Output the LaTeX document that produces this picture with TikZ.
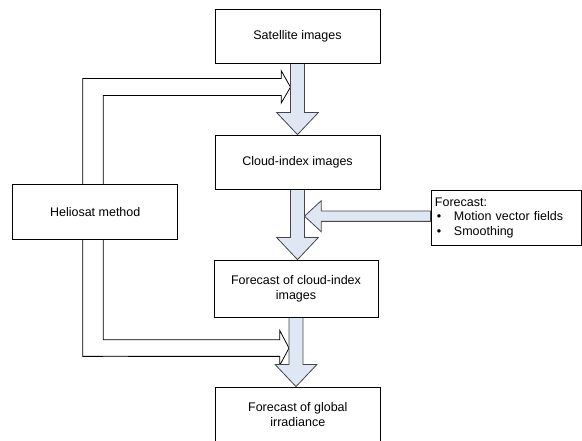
\documentclass[tikz,border=0pt]{standalone}
\usepackage{fontspec}
\setmainfont{Liberation Sans}
\usetikzlibrary{calc}

\definecolor{arrowfill}{RGB}{222,231,243}
\definecolor{edgegray}{RGB}{70,70,70}

\pgfdeclarelayer{back}
\pgfsetlayers{back,main}

\tikzset{
  box/.style={draw=black, line width=0.8pt, fill=white, minimum width=165pt,
    minimum height=54pt, inner sep=2pt, align=center,
    font=\fontsize{12.5}{15}\selectfont},
  blockarrow/.style={draw=edgegray, line width=0.8pt, fill=arrowfill, line join=miter},
  feedline/.style={draw=black, line width=0.8pt, line join=miter},
}

% wide hollow arrow pointing down from one box into the next
\newcommand{\downblock}[2]{%
  \coordinate (dbs) at (#1.south);
  \coordinate (dbt) at (#1.south |- #2.north);
  \path[blockarrow] ($(dbs)+(-7,0)$) -- ($(dbt)+(-7,-22)$) -- ($(dbt)+(-20.8,-22)$)
    -- (dbt) -- ($(dbt)+(20.8,-22)$) -- ($(dbt)+(7,-22)$) -- ($(dbs)+(7,0)$) -- cycle;}

\begin{document}
\begin{tikzpicture}[x=1pt, y=-1pt]
  \useasboundingbox (0,0) rectangle (582,441);
  \clip (0,0) rectangle (582,441);

  % process boxes
  \node[box] (sat)    at (297.5,36)    {Satellite images};
  \node[box] (cloud)  at (297.5,162)   {Cloud-index images};
  \node[box, minimum width=164pt, minimum height=57pt] (fcloud) at (296,288.5)
        {Forecast of cloud-index\\images};
  \node[box, minimum height=56pt] (glob) at (297.8,415) {Forecast of global\\irradiance};
  \node[box, minimum height=55pt] (helio) at (95.2,211.7) {Heliosat method};
  \node[box, minimum width=150.5pt, minimum height=54.3pt, inner sep=4pt,
        text width=142.5pt, align=left, font=\fontsize{12.5}{14.5}\selectfont]
        (fc) at (506.2,217.8)
        {Forecast:\\
         \makebox[19pt][l]{\hspace{2pt}\textbullet}Motion vector fields\\
         \makebox[19pt][l]{\hspace{2pt}\textbullet}Smoothing};

  \begin{pgfonlayer}{back}
    % Heliosat feeds into the first and the last step
    \coordinate (tipA) at ($(sat.south)+(-7,23.7)$);
    \draw[feedline] ($(helio.north)+(-12.5,0)$) |- ($(tipA)+(-9.3,-8.5)$)
      -- ($(tipA)+(-9.3,-16.4)$) -- (tipA) -- ($(tipA)+(-9.3,16)$)
      -- ($(tipA)+(-9.3,8.5)$) -| ($(helio.north)+(8.1,0)$);

    \coordinate (tipB) at ($(fcloud.south)+(-7,30.7)$);
    \draw[feedline] ($(helio.south)+(8.1,0)$) |- ($(tipB)+(-9.3,-8.4)$)
      -- ($(tipB)+(-9.3,-17.7)$) -- (tipB) -- ($(tipB)+(-9.3,17.3)$)
      -- ($(tipB)+(-9.3,8.3)$) -| ($(helio.south)+(-12.5,0)$);
    \coordinate (kink) at ($(tipB -| helio.south)+(8.1,8.3)$);
    \draw[edgegray, line width=1.6pt] (kink) -- ++(24.7,0);

    % main flow
    \downblock{sat}{cloud}
    \downblock{cloud}{fcloud}
    \downblock{fcloud}{glob}

    % forecast step enters from the right
    \coordinate (tipC) at ($(fc.west -| cloud.south)+(7,-1.6)$);
    \path[blockarrow] ($(fc.west)+(0,-6.8)$) -- ($(tipC)+(16.7,-5.2)$)
      -- ($(tipC)+(16.7,-15.5)$) -- (tipC) -- ($(tipC)+(16.7,15.5)$)
      -- ($(tipC)+(16.7,5.2)$) -- ($(fc.west)+(0,3.6)$) -- cycle;
  \end{pgfonlayer}
\end{tikzpicture}
\end{document}
